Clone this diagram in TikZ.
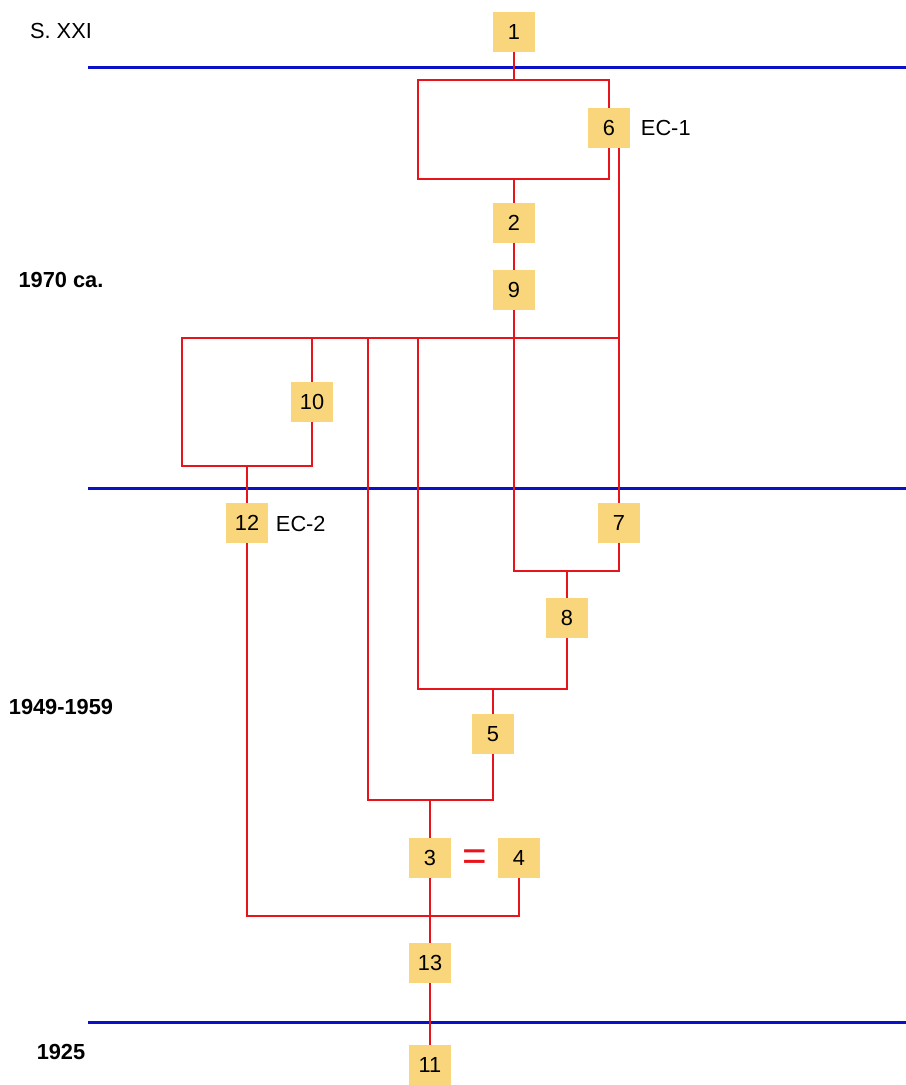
\documentclass[tikz,border=0pt]{standalone}
\usepackage{fontspec}
\setmainfont{Liberation Sans}
\usepackage{xcolor}
\usepackage{tikz}
\usetikzlibrary{calc,positioning}
\definecolor{witnessfill}{HTML}{F9D67B}
\definecolor{lineage}{HTML}{E8141C}
\definecolor{eraline}{HTML}{0A10C8}
\tikzset{
  witness/.style={
    fill=witnessfill,
    minimum width=10.6mm,
    minimum height=10mm,
    inner sep=0pt,
    font=\fontsize{15.5}{15.5}\selectfont
  },
  link/.style={draw=lineage, line width=0.62mm},
  era/.style={draw=eraline, line width=0.75mm},
  century/.style={font=\fontsize{15.5}{16}\selectfont},
  eralabel/.style={font=\fontsize{15.5}{16}\selectfont\bfseries},
  siglum/.style={font=\fontsize{15.5}{15.5}\selectfont, anchor=west},
  equal/.style={text=lineage, font=\fontsize{30}{30}\selectfont}
}

\begin{document}
\begin{tikzpicture}[x=0.25mm,y=-0.25mm]
\path[use as bounding box] (0,0) rectangle (906,1085);
\fill[white] (0,0) rectangle (906,1085);

% era dividers
\draw[era] (88,68) -- (906,68);
\draw[era] (88,488) -- (906,488);
\draw[era] (88,1022) -- (906,1022);

\node[century] (sxxi) at (61,31) {S. XXI};
\node[eralabel] (y1970) at (61,280) {1970 ca.};
\node[eralabel] (y1949) at (61,707) {1949-1959};
\node[eralabel] (y1925) at (61,1052) {1925};

% witnesses
\node[witness] (w1) at (514,32) {1};
\node[witness] (w6) at (609,128) {6};
\node[siglum] (ec1) at (636,128) {EC-1};
\node[witness] (w2) at (514,223) {2};
\node[witness] (w9) at (514,290) {9};
\node[witness] (w10) at (312,402) {10};
\node[witness] (w12) at (247,523) {12};
\node[siglum] (ec2) at (271,524) {EC-2};
\node[witness] (w7) at (619,523) {7};
\node[witness] (w8) at (567,618) {8};
\node[witness] (w5) at (493,734) {5};
\node[witness] (w3) at (430,858) {3};
\node[equal] (eq) at (475,860) {=};
\node[witness] (w4) at (519,858) {4};
\node[witness] (w13) at (430,963) {13};
\node[witness] (w11) at (430,1065) {11};

% junctions
\coordinate (capA) at (514,80);
\coordinate (capAl) at (418,80);
\coordinate (footAl) at (418,179);
\coordinate (barL) at (182,338);
\coordinate (barR) at (619,338);
\coordinate (footBl) at (182,466);
\coordinate (stem3) at (368,338);
\coordinate (stem5) at (418,338);
\coordinate (fork78) at (567,571);
\coordinate (fork58) at (493,689);
\coordinate (fork35) at (430,800);
\coordinate (fork34) at (430,916);

\draw[link] (w1) -- (capA);
\draw[link] (w6.north) |- (capAl) -- (footAl) -| (w6.south);
\draw[link] (footAl -| w2) -- (w2);
\draw[link] (w2) -- (w9);
\draw[link] (w9) |- (fork78) -| (w7);
\draw[link] (w8) -- (fork78);
\draw[link] (w6.south -| w7) -- (w7);
\draw[link] (barL) -- (barR);
\draw[link] (w10.north) |- (barL) -- (footBl) -| (w10.south);
\draw[link] (footBl -| w12) -- (w12);
\draw[link] (w12) |- (fork34) -| (w4);
\draw[link] (stem3) |- (fork35) -| (w5);
\draw[link] (stem5) |- (fork58) -| (w8);
\draw[link] (w5) -- (fork58);
\draw[link] (fork35) -- (w3);
\draw[link] (w3) -- (w13);
\draw[link] (w13) -- (w11);

\end{tikzpicture}
\end{document}
